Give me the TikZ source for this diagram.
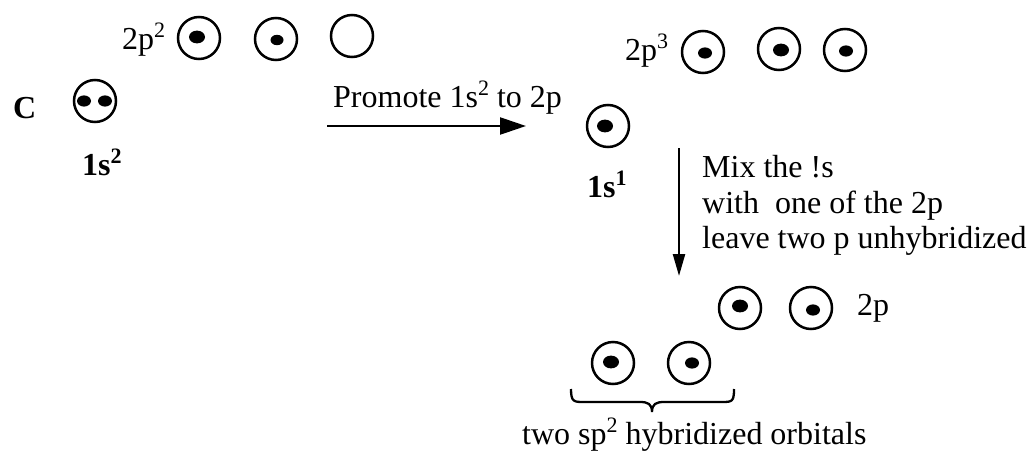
\documentclass[tikz,border=0pt]{standalone}
\usepackage{fontspec}
\setmainfont{Liberation Serif}
\usetikzlibrary{arrows.meta}
\newcommand{\supr}[1]{\raisebox{12pt}{\fontsize{22}{22}\selectfont #1}}
\tikzset{
  orb/.style={circle, draw, line width=2.5pt, minimum size=42pt, inner sep=0pt},
  lbl/.style={anchor=base west, inner sep=0pt, font=\fontsize{32}{35}\selectfont},
  conn/.style={line width=2.3pt, -{Triangle[length=26pt, width=17pt]}},
  vconn/.style={line width=2.3pt, -{Triangle[length=22pt, width=12pt]}},
}
\newcommand{\edot}[3]{\fill (#1,#2) ellipse [x radius=#3pt, y radius=#3pt*0.8];}
\begin{document}
\begin{tikzpicture}[x=1pt, y=-1pt]
\useasboundingbox (0,0) rectangle (1028,450);
% ground state
\node[lbl] (l2p2) at (122,49) {2p\supr{2}};
\node[orb] (a1) at (199,38) {};
\node[orb] (a2) at (276,39) {};
\node[orb] (a3) at (352,36) {};
\edot{197}{37}{8}
\edot{277}{40}{6.5}
\node[lbl, font=\fontsize{32}{35}\selectfont\bfseries] (lC) at (13,118) {C};
\node[orb] (s1) at (95,101) {};
\edot{84}{101}{7}
\edot{105}{101}{7}
\node[lbl, font=\fontsize{32}{35}\selectfont\bfseries] (l1s2) at (82,175) {1s\supr{2}};
% promotion
\coordinate (p1) at (327,126);
\coordinate (p2) at (526,126);
\draw[conn] (p1) -- (p2);
\node[lbl] (lprom) at (333,107) {Promote 1s\supr{2} to 2p};
% excited state
\node[orb] (s2) at (608,126) {};
\edot{605}{126}{8}
\node[lbl, font=\fontsize{32}{35}\selectfont\bfseries] (l1s1) at (587,197) {1s\supr{1}};
\node[lbl] (l2p3) at (625,60) {2p\supr{3}};
\node[orb] (b1) at (703,52) {};
\node[orb] (b2) at (779,49) {};
\node[orb] (b3) at (845,50) {};
\edot{705}{53}{7}
\edot{781}{50}{8}
\edot{846}{51}{7}
% mixing
\coordinate (m1) at (679,148);
\coordinate (m2) at (679,276);
\draw[vconn] (m1) -- (m2);
\node[lbl] (t1) at (702,177) {Mix the !s};
\node[lbl] (t2) at (702,213) {with\ \ one of the 2p};
\node[lbl] (t3) at (702,248) {leave two p unhybridized};
% hybridized
\node[orb] (c1) at (740,308) {};
\node[orb] (c2) at (811,308) {};
\edot{740}{306}{8}
\edot{813}{310}{7}
\node[lbl] (l2p) at (857,315) {2p};
\node[orb] (h1) at (613,363) {};
\node[orb] (h2) at (689,363) {};
\edot{611}{362}{8}
\edot{692}{363}{7}
\draw[line width=2.3pt] (571,389) .. controls (571,402) and (574,402) .. (584,402) -- (640,402) .. controls (648,402) and (652,404) .. (652,412) .. controls (652,404) and (656,402) .. (664,402) -- (721,402) .. controls (732,402) and (734,402) .. (734,389);
\node[lbl] (lsp2) at (522,444) {two sp\supr{2} hybridized orbitals};
\end{tikzpicture}
\end{document}
